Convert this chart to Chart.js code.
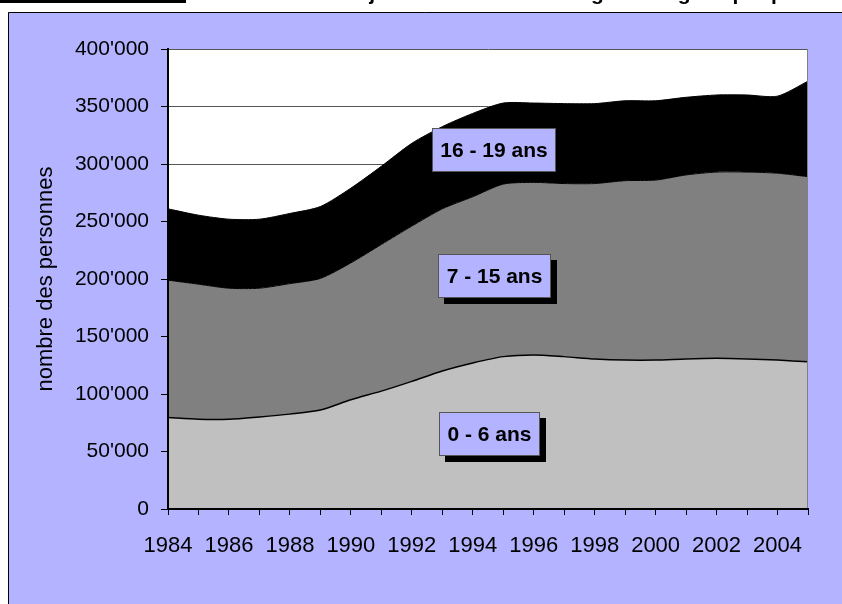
<!DOCTYPE html>
<html lang="fr">
<head>
<meta charset="utf-8">
<title>Jeunes de 0 à 19 ans par catégorie d'âge</title>
<script src="https://cdn.jsdelivr.net/npm/chart.js@4.4.1/dist/chart.umd.min.js"></script>
<style>
  html, body { margin: 0; padding: 0; background: #ffffff; }
  #wrap { position: relative; width: 842px; height: 604px; overflow: hidden; }
  canvas { display: block; }
</style>
</head>
<body>
<div id="wrap"><canvas id="chart" width="842" height="604"></canvas></div>
<script>
// Années
const years = ['1984','1985','1986','1987','1988','1989','1990','1991','1992','1993','1994',
               '1995','1996','1997','1998','1999','2000','2001','2002','2003','2004','2005'];

// Effectifs par catégorie d'âge (nombre de personnes)
const age0to6 = [79500, 78000, 78000, 80000, 82500, 86000, 95000, 102500, 111000, 120000, 127000,
                 132500, 134000, 132500, 130500, 129500, 129500, 130500, 131000, 130500, 129500, 128000];
const age7to15 = [119500, 117500, 114000, 112000, 113500, 114500, 119000, 127500, 135000, 141000, 144500,
                  150000, 150000, 150500, 152500, 156000, 156500, 160000, 162000, 162500, 162500, 161000];
const age16to19 = [62000, 60000, 60000, 60000, 61000, 62500, 65000, 68000, 72000, 71500, 72500,
                   70500, 69000, 69500, 69500, 69500, 69000, 67500, 67000, 67000, 67000, 83000];

// Libellés des séries et graduations
const seriesNames = ['0 - 6 ans', '7 - 15 ans', '16 - 19 ans'];
const yTicks = [0, 50000, 100000, 150000, 200000, 250000, 300000, 350000, 400000];
const axisTitle = 'nombre des personnes';
const chartTitle = 'Évolution de la jeunesse selon la catégorie d\'âge et par période';

const FONT = '"Liberation Sans", Arial, sans-serif';
const PANEL = '#b3b3ff';

function fmtThousands(v) {
  return String(Math.round(v)).replace(/\B(?=(\d{3})+(?!\d))/g, "'");
}

// Fond : bande blanche, cadre lavande, zone de tracé blanche
const backdrop = {
  id: 'backdrop',
  beforeDraw(chart) {
    const { ctx, width, height, chartArea: a } = chart;
    ctx.save();
    ctx.fillStyle = '#ffffff';
    ctx.fillRect(0, 0, width, height);
    ctx.fillStyle = '#000000';
    ctx.fillRect(0, 0, 186, 3);
    ctx.font = 'bold 21px ' + FONT;
    ctx.textBaseline = 'alphabetic';
    ctx.textAlign = 'left';
    ctx.fillText(chartTitle, 214, 0);
    ctx.fillStyle = PANEL;
    ctx.fillRect(8, 12, width - 8, height - 12);
    ctx.strokeStyle = '#000000';
    ctx.lineWidth = 1;
    ctx.beginPath();
    ctx.moveTo(8.5, height);
    ctx.lineTo(8.5, 12.5);
    ctx.lineTo(width, 12.5);
    ctx.stroke();
    ctx.fillStyle = '#ffffff';
    ctx.fillRect(a.left, a.top, a.right - a.left, a.bottom - a.top);
    ctx.restore();
  },
  afterDatasetsDraw(chart) {
    const { ctx, chartArea: a } = chart;
    ctx.save();
    ctx.strokeStyle = '#808080';
    ctx.lineWidth = 1;
    ctx.beginPath();
    ctx.moveTo(Math.round(a.right) - 0.5, a.top);
    ctx.lineTo(Math.round(a.right) - 0.5, a.bottom);
    ctx.stroke();
    ctx.restore();
  }
};

// Étiquettes des séries dans des cadres lavande avec ombre
const seriesLabels = {
  id: 'seriesLabels',
  afterDraw(chart, args, opts) {
    const { ctx } = chart;
    const xs = chart.scales.x, ys = chart.scales.y;
    ctx.save();
    ctx.font = 'bold 21px ' + FONT;
    ctx.textBaseline = 'middle';
    ctx.textAlign = 'center';
    opts.items.forEach(it => {
      const cx = xs.getPixelForValue(it.at);
      const cy = ys.getPixelForValue(it.value);
      const w = Math.round(ctx.measureText(it.text).width + 17);
      const h = 44;
      const l = Math.round(cx - w / 2), t = Math.round(cy - h / 2);
      ctx.fillStyle = '#000000';
      ctx.fillRect(l + 6, t + 6, w, h);
      ctx.fillStyle = PANEL;
      ctx.fillRect(l, t, w, h);
      ctx.strokeStyle = '#555555';
      ctx.lineWidth = 1;
      ctx.strokeRect(l + 0.5, t + 0.5, w - 1, h - 1);
      ctx.fillStyle = '#000000';
      ctx.fillText(it.text, l + w / 2, t + h / 2 + 1);
    });
    ctx.restore();
  }
};

new Chart(document.getElementById('chart'), {
  type: 'line',
  data: {
    labels: years,
    datasets: [
      { label: seriesNames[0], data: age0to6, backgroundColor: '#c0c0c0', borderColor: '#000000',
        borderWidth: 1.5, fill: 'origin' },
      { label: seriesNames[1], data: age7to15, backgroundColor: '#808080', borderColor: '#000000',
        borderWidth: 1, fill: '-1' },
      { label: seriesNames[2], data: age16to19, backgroundColor: '#000000', borderColor: '#000000',
        borderWidth: 1, fill: '-1' }
    ]
  },
  options: {
    responsive: false,
    animation: false,
    devicePixelRatio: 1,
    elements: { point: { radius: 0, hoverRadius: 0 }, line: { tension: 0.25 } },
    layout: { padding: { left: 0, top: 49, right: 34, bottom: 0 } },
    plugins: {
      legend: { display: false },
      tooltip: { enabled: false },
      seriesLabels: {
        items: [
          { text: seriesNames[2], at: 10.7, value: 312600 },
          { text: seriesNames[1], at: 10.7, value: 202600 },
          { text: seriesNames[0], at: 10.55, value: 65200 }
        ]
      }
    },
    scales: {
      x: {
        offset: false,
        grid: { drawOnChartArea: false, drawTicks: true, tickLength: 6, tickColor: '#000000', tickWidth: 1 },
        border: { display: true, color: '#000000', width: 2, z: 1 },
        ticks: {
          autoSkip: false, maxRotation: 0, minRotation: 0, padding: 18,
          color: '#000000', font: { family: FONT, size: 22 },
          callback: (v, i) => (i % 2 === 0 ? years[i] : '')
        },
        afterFit(scale) { scale.height = 95; }
      },
      y: {
        stacked: true,
        min: 0, max: 400000,
        afterBuildTicks(scale) { scale.ticks = yTicks.map(v => ({ value: v })); },
        grid: { color: '#555555', lineWidth: 1, drawTicks: true, tickLength: 7, tickColor: '#000000' },
        border: { display: true, color: '#000000', width: 2, z: 1 },
        ticks: {
          padding: 12, color: '#000000', font: { family: FONT, size: 21 },
          callback: v => fmtThousands(v)
        },
        title: {
          display: true, text: axisTitle, color: '#000000',
          font: { family: FONT, size: 22 }, padding: { top: 33, bottom: 0 }
        },
        afterFit(scale) { scale.width = 168; }
      }
    }
  },
  plugins: [backdrop, seriesLabels]
});
</script>
</body>
</html>
